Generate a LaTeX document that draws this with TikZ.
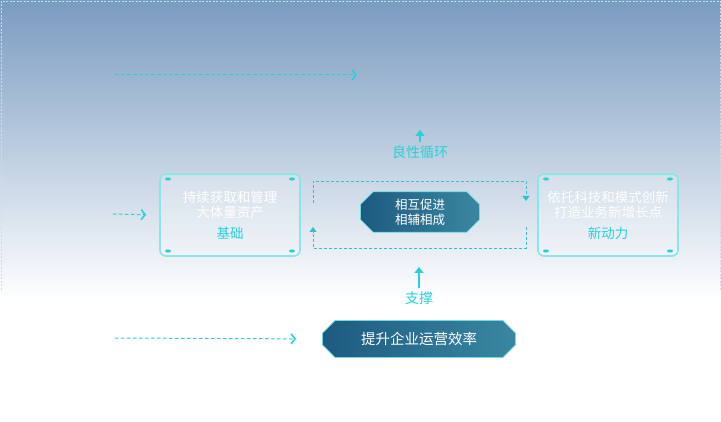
\documentclass[tikz,border=0pt]{standalone}
\usepackage{fontspec}
\setmainfont{Noto Sans CJK SC}
\usetikzlibrary{arrows.meta,shapes.misc,calc}
\definecolor{cyanA}{HTML}{2BD0D6}
\definecolor{loopC}{HTML}{34BFCB}
\definecolor{bgTop}{HTML}{7A9BC0}
\definecolor{navyL}{HTML}{1D5A80}
\definecolor{navyR}{HTML}{3A87A1}

\begin{document}
\begin{tikzpicture}[x=1pt, y=-1pt,
    infobox/.style={rectangle, draw=cyanA!55, line width=1.6pt, fill=white,
                fill opacity=0.25, text opacity=1, rounded corners=6pt,
                minimum width=140pt, minimum height=82pt, align=center, text=white,
                font=\fontsize{13.5}{15.5}\selectfont,
                path picture={
                    \fill[cyanA, fill opacity=1] ($(path picture bounding box.north west)+(8pt,-5pt)$) ellipse [x radius=3pt, y radius=1.6pt];
                    \fill[cyanA, fill opacity=1] ($(path picture bounding box.north east)+(-8pt,-5pt)$) ellipse [x radius=3pt, y radius=1.6pt];
                    \fill[cyanA, fill opacity=1] ($(path picture bounding box.south west)+(8pt,5pt)$) ellipse [x radius=3pt, y radius=1.6pt];
                    \fill[cyanA, fill opacity=1] ($(path picture bounding box.south east)+(-8pt,5pt)$) ellipse [x radius=3pt, y radius=1.6pt];
                }},
    hexnode/.style={chamfered rectangle, chamfered rectangle xsep=9pt,
                left color=navyL, right color=navyR, draw=cyanA!70, line width=0.8pt,
                text=white, align=center, minimum height=37pt},
    lbl/.style={text=cyanA, font=\fontsize{14}{16}\selectfont},
    flow/.style={cyanA, line width=1pt, dash pattern=on 3.5pt off 2.5pt,
                -{Straight Barb[length=4pt, width=10pt, line width=1.6pt]}},
    loopline/.style={loopC, line width=0.8pt, dash pattern=on 3pt off 2pt,
                -{Triangle[length=5pt, width=7pt]}},
    uparrow/.style={cyanA, line width=2.8pt, -{Triangle[length=6pt, width=9pt]}}
]
    \useasboundingbox (0,0) rectangle (721,422);

    % background panel
    \shade[top color=bgTop, bottom color=white] (0,0) rectangle (721,300);
    \draw[cyanA!40, dash pattern=on 2pt off 1.5pt, line width=0.6pt]
        (1,290) -- (1,1) -- (720,1) -- (720,290);

    % boxes
    \node[infobox] (base) at (230,215) {持续获取和管理\\大体量资产\\[5pt]\textcolor{cyanA}{基础}};
    \node[infobox] (drive) at (608,215) {依托科技和模式创新\\打造业务新增长点\\[5pt]\textcolor{cyanA}{新动力}};
    \node[hexnode, minimum width=119pt, font=\fontsize{12.5}{15}\selectfont] (mutual) at (420,212) {相互促进\\相辅相成};
    \node[hexnode, minimum width=193pt, font=\fontsize{14.5}{16}\selectfont] (goal) at (419,339) {提升企业运营效率};

    % labels
    \node[lbl] (cycle) at (420,152) {良性循环};
    \node[lbl] (support) at (419,298) {支撑};

    \coordinate (cyctip) at (420,130);
    \coordinate (suptip) at (419,267);
    \draw[uparrow] (cycle.north) -- (cyctip);
    \draw[uparrow] (support.north) -- (suptip);

    % loop around the centre
    \coordinate (lpA) at (313,203);
    \coordinate (lpB) at (313,181);
    \coordinate (lpC) at (526,181);
    \coordinate (lpD) at (526,201);
    \coordinate (lpE) at (526,227);
    \coordinate (lpF) at (526,248);
    \coordinate (lpG) at (313,248);
    \coordinate (lpH) at (313,227);
    \draw[loopline] (lpA) -- (lpB) -- (lpC) -- (lpD);
    \draw[loopline] (lpE) -- (lpF) -- (lpG) -- (lpH);

    % incoming arrows
    \coordinate (inA) at (115,75);
    \coordinate (outA) at (357,75);
    \coordinate (inB) at (113,214);
    \coordinate (inC) at (115,338);
    \draw[flow] (inA) -- (outA);
    \draw[flow, shorten >=13pt] (inB) -- (base.west);
    \draw[flow, shorten >=26pt] (inC) -- (goal.west);
\end{tikzpicture}
\end{document}
